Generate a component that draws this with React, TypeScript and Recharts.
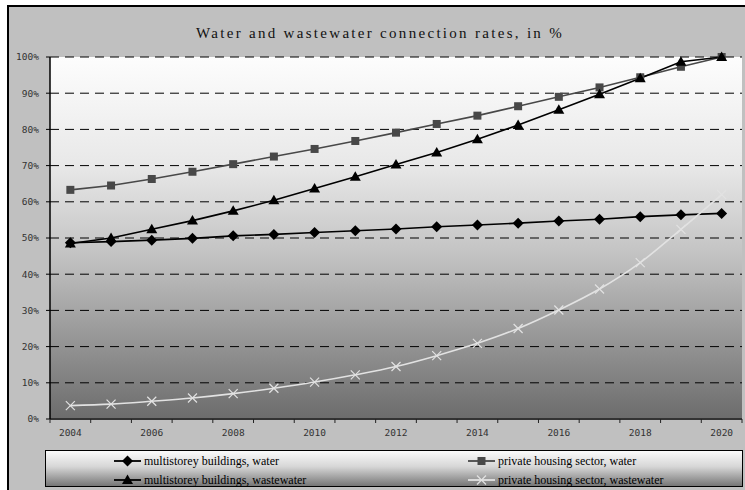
import React from 'react';
import { LineChart, Line, XAxis, YAxis, CartesianGrid, Legend } from 'recharts';

const years = [2004, 2005, 2006, 2007, 2008, 2009, 2010, 2011, 2012, 2013, 2014, 2015, 2016, 2017, 2018, 2019, 2020];
const multiWater = [48.7, 49.0, 49.4, 49.9, 50.6, 51.0, 51.5, 52.0, 52.5, 53.1, 53.6, 54.1, 54.7, 55.2, 55.9, 56.4, 56.8];
const privateWater = [63.3, 64.5, 66.3, 68.3, 70.4, 72.5, 74.6, 76.8, 79.1, 81.5, 83.8, 86.4, 89.0, 91.6, 94.4, 97.3, 100];
const multiWaste = [48.5, 50.0, 52.4, 54.8, 57.5, 60.4, 63.7, 66.9, 70.3, 73.6, 77.3, 81.2, 85.4, 89.7, 94.1, 98.7, 100];
const privateWaste = [3.7, 4.1, 4.9, 5.8, 7.0, 8.5, 10.2, 12.2, 14.5, 17.5, 20.9, 25.0, 30.1, 35.9, 43.2, 52.4, 62.0];

const yTicks = [0, 10, 20, 30, 40, 50, 60, 70, 80, 90, 100];
const xLabels = [2004, 2006, 2008, 2010, 2012, 2014, 2016, 2018, 2020];
const xBounds = [2003.5, 2004.5, 2005.5, 2006.5, 2007.5, 2008.5, 2009.5, 2010.5, 2011.5, 2012.5, 2013.5, 2014.5, 2015.5, 2016.5, 2017.5, 2018.5, 2019.5, 2020.5];

const data = years.map((year, i) => ({
  year,
  multiWater: multiWater[i],
  privateWater: privateWater[i],
  multiWaste: multiWaste[i],
  privateWaste: privateWaste[i],
}));

const series = [
  { key: 'multiWater', name: 'multistorey buildings, water', color: '#000000', marker: 'diamond', width: 1.6 },
  { key: 'privateWater', name: 'private housing sector, water', color: '#484848', marker: 'square', width: 1.6 },
  { key: 'multiWaste', name: 'multistorey buildings, wastewater', color: '#000000', marker: 'triangle', width: 1.6 },
  { key: 'privateWaste', name: 'private housing sector, wastewater', color: '#e2e2e2', marker: 'cross', width: 1.6 },
];

function Marker({ kind, cx, cy, color }: { kind: string; cx: number; cy: number; color: string }) {
  if (kind === 'diamond') {
    return <polygon points={`${cx},${cy - 5.5} ${cx + 5.5},${cy} ${cx},${cy + 5.5} ${cx - 5.5},${cy}`} fill={color} />;
  }
  if (kind === 'square') {
    return <rect x={cx - 4} y={cy - 4} width={8} height={8} fill={color} />;
  }
  if (kind === 'triangle') {
    return <polygon points={`${cx},${cy - 5.5} ${cx + 5.5},${cy + 4} ${cx - 5.5},${cy + 4}`} fill={color} />;
  }
  return (
    <g stroke={color} strokeWidth={1.2}>
      <line x1={cx - 4.5} y1={cy - 4.5} x2={cx + 4.5} y2={cy + 4.5} />
      <line x1={cx - 4.5} y1={cy + 4.5} x2={cx + 4.5} y2={cy - 4.5} />
    </g>
  );
}

const makeDot = (kind: string, color: string) => (props: any) => {
  const { cx, cy, index } = props;
  if (cx == null || cy == null) return <g key={`d-${index}`} />;
  return (
    <g key={`d-${index}`}>
      <Marker kind={kind} cx={cx} cy={cy} color={color} />
    </g>
  );
};

const XTick = (props: any) => {
  const { x, y, payload } = props;
  const v = payload.value;
  if (v % 1 !== 0) {
    return <line x1={x} y1={y} x2={x} y2={y + 4} stroke="#222" strokeWidth={1} />;
  }
  return (
    <text x={x} y={y + 17} textAnchor="middle" fontFamily="DejaVu Sans Mono" fontSize={9.5} fill="#333">
      {v}
    </text>
  );
};

const legendPos = [
  { left: 68, top: 10 },
  { left: 422, top: 10 },
  { left: 68, top: 29 },
  { left: 422, top: 29 },
];

const renderLegend = () => (
  <div
    style={{
      position: 'relative',
      width: 698,
      height: 37,
      boxSizing: 'border-box',
      border: '1px solid #000',
      background: 'linear-gradient(to bottom, #fbfbfb 0%, #d6d6d6 45%, #767676 100%)',
    }}
  >
    {series.map((s, i) => (
      <div
        key={s.key}
        style={{
          position: 'absolute',
          left: legendPos[i].left,
          top: legendPos[i].top - 8,
          height: 16,
          display: 'flex',
          alignItems: 'center',
          whiteSpace: 'nowrap',
        }}
      >
        <svg width={28} height={16} style={{ display: 'block' }}>
          <line x1={0} y1={8} x2={27} y2={8} stroke={s.color} strokeWidth={1.8} />
          <Marker kind={s.marker} cx={13.5} cy={8} color={s.color} />
        </svg>
        <span style={{ fontFamily: 'Liberation Serif', fontSize: 12, color: '#000', marginLeft: 2 }}>{s.name}</span>
      </div>
    ))}
  </div>
);

export default function App() {
  return (
    <div style={{ position: 'absolute', left: 0, top: 0, width: 745, height: 490, background: '#fff', overflow: 'hidden' }}>
      <div
        style={{
          position: 'absolute',
          left: 7,
          top: 5,
          width: 745,
          height: 490,
          background: '#c0c0c0',
          borderLeft: '2px solid #000',
          borderTop: '2px solid #000',
          boxSizing: 'border-box',
        }}
      />
      <div style={{ position: 'absolute', left: 0, top: 0 }}>
        <LineChart width={745} height={490} data={data} margin={{ top: 57, right: 3, bottom: 41, left: 10 }}>
          <defs>
            <linearGradient id="plotBg" x1="0" y1="0" x2="0" y2="1">
              <stop offset="0%" stopColor="#fdfdfd" />
              <stop offset="30%" stopColor="#e8e8e8" />
              <stop offset="55%" stopColor="#c2c2c2" />
              <stop offset="100%" stopColor="#6c6c6c" />
            </linearGradient>
          </defs>
          <text
            x={380}
            y={38}
            textAnchor="middle"
            fontFamily="Liberation Serif"
            fontSize={15}
            letterSpacing={2.3}
            fill="#111"
          >
            Water and wastewater connection rates, in %
          </text>
          <CartesianGrid
            vertical={false}
            stroke="#000"
            strokeDasharray="9 6"
            fill="url(#plotBg)"
            fillOpacity={1}
          />
          <XAxis
            dataKey="year"
            type="number"
            domain={[2003.5, 2020.5]}
            ticks={[...xBounds, ...xLabels].sort((a, b) => a - b)}
            interval={0}
            tick={<XTick />}
            tickLine={false}
            tickSize={0}
            tickMargin={0}
            height={30}
            axisLine={{ stroke: '#333', strokeWidth: 2 }}
            allowDataOverflow
          />
          <YAxis
            domain={[0, 100]}
            ticks={yTicks}
            interval={0}
            width={40}
            tickSize={4}
            tickMargin={7}
            tickFormatter={(v) => `${v}%`}
            tick={{ fontFamily: 'DejaVu Sans Mono', fontSize: 9.5, fill: '#333' }}
            tickLine={{ stroke: '#000' }}
            axisLine={{ stroke: '#000', strokeWidth: 1.5 }}
          />
          {series.map((s) => (
            <Line
              key={s.key}
              dataKey={s.key}
              name={s.name}
              type={s.key === 'privateWaste' ? 'monotone' : 'linear'}
              stroke={s.color}
              strokeWidth={s.width}
              dot={makeDot(s.marker, s.color)}
              activeDot={false}
              isAnimationActive={false}
            />
          ))}
          <Legend
            layout="horizontal"
            verticalAlign="middle"
            align="center"
            content={renderLegend}
            wrapperStyle={{ position: 'absolute', left: 45, top: 450, width: 698, height: 37 }}
          />
        </LineChart>
      </div>
    </div>
  );
}
